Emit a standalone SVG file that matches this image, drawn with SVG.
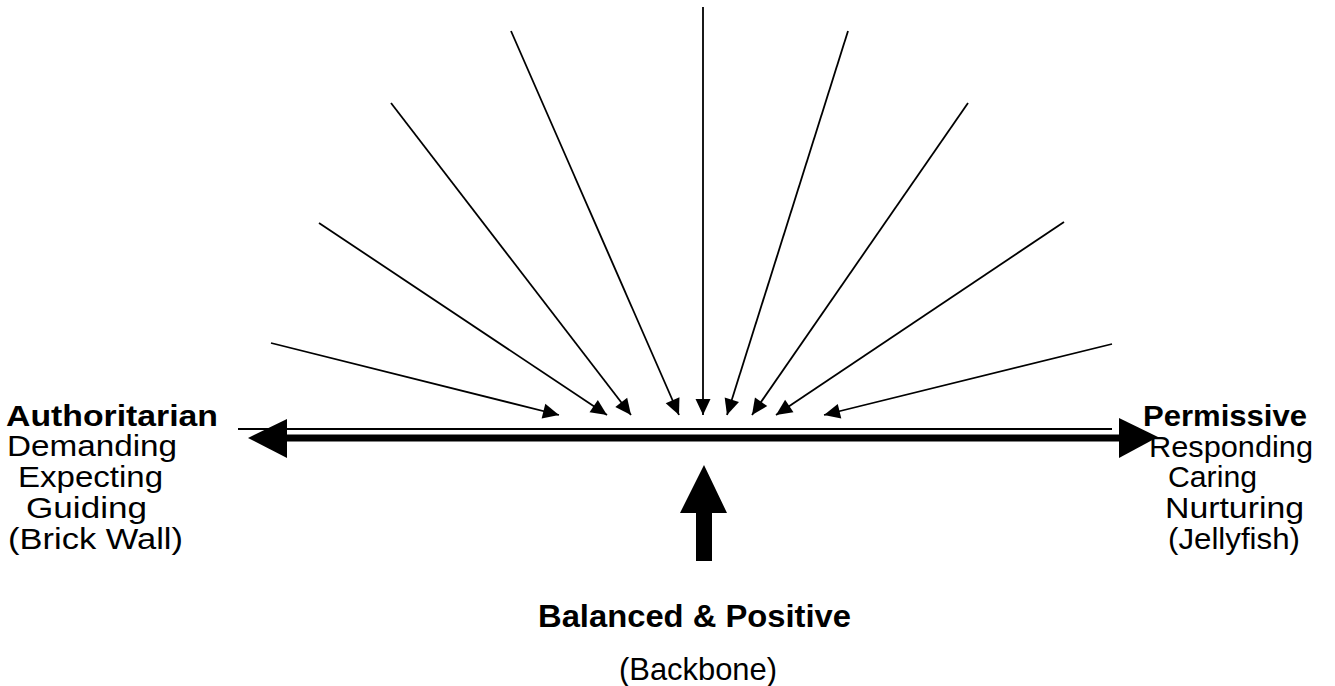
<svg xmlns="http://www.w3.org/2000/svg" width="1335" height="686" viewBox="0 0 1335 686">
<defs>
<style>
.lbl{font-family:"Liberation Sans",Arial,sans-serif;font-size:30px;fill:#000}
.b{font-weight:bold}
.big{font-size:32px}
.ray{stroke:#000;stroke-width:1.8;fill:none;marker-end:url(#ah)}
</style>
<marker id="ah" markerUnits="userSpaceOnUse" markerWidth="18" markerHeight="16" viewBox="0 0 16 16" refX="16" refY="8" orient="auto">
<path d="M0,0.5 L16,8 L0,15.5 Z" fill="#000"/>
</marker>
</defs>
<rect width="1335" height="686" fill="#fff"/>
<g id="connectors">
<line class="ray" x1="271" y1="343" x2="559" y2="415"/>
<line class="ray" x1="319" y1="223" x2="607" y2="415"/>
<line class="ray" x1="391" y1="103" x2="631" y2="415"/>
<line class="ray" x1="511" y1="31" x2="679" y2="415"/>
<line class="ray" x1="703" y1="7" x2="703" y2="415"/>
<line class="ray" x1="848" y1="31" x2="727" y2="415"/>
<line class="ray" x1="968" y1="103" x2="752" y2="415"/>
<line class="ray" x1="1064" y1="222" x2="776" y2="415"/>
<line class="ray" x1="1112" y1="344" x2="824" y2="415"/>
</g>
<g id="axis">
<line x1="238" y1="429" x2="1112" y2="429" stroke="#000" stroke-width="2"/>
<rect x="280" y="434.5" width="845" height="7" fill="#000"/>
<polygon points="248,438 287,419 287,458" fill="#000"/>
<polygon points="1158,437 1119,418 1119,458" fill="#000"/>
</g>
<g id="up-arrow">
<polygon points="704,465 727,513 712,513 712,561 696,561 696,513 680,513" fill="#000"/>
</g>
<g id="authoritarian">
<text class="lbl b" x="6" y="426" textLength="212" lengthAdjust="spacingAndGlyphs">Authoritarian</text>
<text class="lbl" x="7" y="456" textLength="170" lengthAdjust="spacingAndGlyphs">Demanding</text>
<text class="lbl" x="18" y="487" textLength="145" lengthAdjust="spacingAndGlyphs">Expecting</text>
<text class="lbl" x="26" y="518" textLength="121" lengthAdjust="spacingAndGlyphs">Guiding</text>
<text class="lbl" x="8" y="549" textLength="175" lengthAdjust="spacingAndGlyphs">(Brick Wall)</text>
</g>
<g id="permissive">
<text class="lbl b" x="1143" y="426" textLength="164" lengthAdjust="spacingAndGlyphs">Permissive</text>
<text class="lbl" x="1149" y="457" textLength="164" lengthAdjust="spacingAndGlyphs">Responding</text>
<text class="lbl" x="1168" y="487" textLength="89" lengthAdjust="spacingAndGlyphs">Caring</text>
<text class="lbl" x="1165" y="518" textLength="139" lengthAdjust="spacingAndGlyphs">Nurturing</text>
<text class="lbl" x="1168" y="549" textLength="132" lengthAdjust="spacingAndGlyphs">(Jellyfish)</text>
</g>
<g id="balanced">
<text class="lbl b big" x="538" y="627" textLength="313" lengthAdjust="spacingAndGlyphs">Balanced &amp; Positive</text>
<text class="lbl big" x="619" y="680" textLength="158" lengthAdjust="spacingAndGlyphs">(Backbone)</text>
</g>
</svg>
